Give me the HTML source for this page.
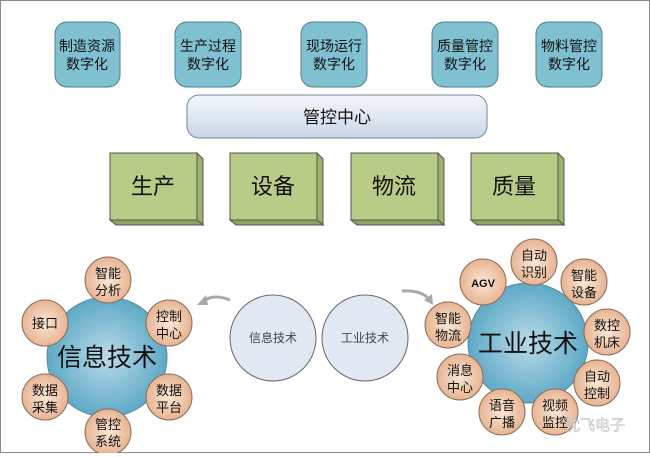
<!DOCTYPE html>
<html><head><meta charset="utf-8"><style>
body{margin:0;background:#fff}
svg text{font-family:"Liberation Sans","Noto Sans CJK SC",sans-serif}
</style></head><body>
<svg width="650" height="453" viewBox="0 0 650 453" xmlns="http://www.w3.org/2000/svg">
<defs>
<linearGradient id="cc" x1="0" y1="0" x2="0" y2="1"><stop offset="0" stop-color="#f4f7fb"/><stop offset="0.5" stop-color="#dfe7f1"/><stop offset="1" stop-color="#c9d6e6"/></linearGradient>
<radialGradient id="big" cx="0.5" cy="0.5" r="0.5"><stop offset="0" stop-color="#b9dbe8"/><stop offset="1" stop-color="#5ea9c6"/></radialGradient>
<radialGradient id="sm" cx="0.5" cy="0.5" r="0.5"><stop offset="0" stop-color="#fbe7d6"/><stop offset="1" stop-color="#e7b493"/></radialGradient>
</defs>
<rect x="0.5" y="0.5" width="649" height="452" fill="#fff" stroke="#8a8a8a"/>
<g fill="#7fc1d1" stroke="#4f7f8a" stroke-width="1">
<rect x="55" y="22" width="65" height="65" rx="12"/>
<rect x="175" y="22" width="66" height="65" rx="12"/>
<rect x="301" y="22" width="66" height="65" rx="12"/>
<rect x="432" y="22" width="66" height="65" rx="12"/>
<rect x="536" y="22" width="66" height="65" rx="12"/>
</g>
<g font-size="14" fill="#111" text-anchor="middle">
<text x="87" y="51">制造资源</text><text x="87" y="69">数字化</text>
<text x="208" y="51">生产过程</text><text x="208" y="69">数字化</text>
<text x="334" y="51">现场运行</text><text x="334" y="69">数字化</text>
<text x="465" y="51">质量管控</text><text x="465" y="69">数字化</text>
<text x="569" y="51">物料管控</text><text x="569" y="69">数字化</text>
</g>
<rect x="187" y="95" width="300" height="43" rx="12" fill="url(#cc)" stroke="#7a8594"/>
<text x="337" y="123" font-size="17" text-anchor="middle" fill="#111">管控中心</text>
<g stroke="#555" stroke-width="1">
<g id="gb"><polygon points="197,153 203,159 203,225 197,220" fill="#9bb36a"/><polygon points="110,220 197,220 203,225 116,225" fill="#8ea45f"/><rect x="110" y="153" width="87" height="67" fill="#b8cc88"/></g>
<use href="#gb" x="120"/><use href="#gb" x="241"/><use href="#gb" x="361"/>
</g>
<g font-size="22" fill="#111" text-anchor="middle">
<text x="153" y="194">生产</text><text x="273" y="194">设备</text><text x="394" y="194">物流</text><text x="514" y="194">质量</text>
</g>
<circle cx="273" cy="338" r="43" fill="#e1e8f4" stroke="#666"/>
<circle cx="365" cy="338" r="43" fill="#e1e8f4" stroke="#666"/>
<g font-size="12" fill="#444" text-anchor="middle"><text x="273" y="342">信息技术</text><text x="365" y="342">工业技术</text></g>
<path d="M230,300 Q215,294 205,300" fill="none" stroke="#aaa" stroke-width="3"/>
<polygon points="197,305 206,295 208,305" fill="#aaa"/>
<path d="M402,291 Q420,290 428,298" fill="none" stroke="#aaa" stroke-width="3"/>
<polygon points="433,305 424,300 432,294" fill="#aaa"/>
<circle cx="107" cy="357" r="60" fill="url(#big)" stroke="#5a8a9a"/>
<g fill="url(#sm)" stroke="#8a6a55">
<circle cx="108" cy="280" r="23"/><circle cx="45" cy="323" r="23"/><circle cx="169" cy="323" r="23"/>
<circle cx="45" cy="397" r="23"/><circle cx="169" cy="397" r="23"/><circle cx="108" cy="432" r="23"/>
</g>
<text x="107" y="366" font-size="25" text-anchor="middle" fill="#111">信息技术</text>
<g font-size="13" fill="#111" text-anchor="middle">
<text x="108" y="278">智能</text><text x="108" y="295">分析</text>
<text x="45" y="328">接口</text>
<text x="169" y="321">控制</text><text x="169" y="338">中心</text>
<text x="45" y="395">数据</text><text x="45" y="412">采集</text>
<text x="169" y="395">数据</text><text x="169" y="412">平台</text>
<text x="108" y="429">管控</text><text x="108" y="446">系统</text>
</g>
<circle cx="528" cy="343" r="60" fill="url(#big)" stroke="#5a8a9a"/>
<g fill="url(#sm)" stroke="#8a6a55">
<circle cx="483" cy="282" r="23"/><circle cx="534" cy="262" r="23"/><circle cx="584" cy="282" r="23"/>
<circle cx="607" cy="332" r="23"/><circle cx="597" cy="383" r="23"/><circle cx="555" cy="412" r="23"/>
<circle cx="502" cy="412" r="23"/><circle cx="460" cy="377" r="23"/><circle cx="448" cy="325" r="23"/>
</g>
<text x="528" y="352" font-size="25" text-anchor="middle" fill="#111">工业技术</text>
<g font-size="13" fill="#111" text-anchor="middle">
<text x="483" y="287" font-size="11" font-weight="bold">AGV</text>
<text x="534" y="260">自动</text><text x="534" y="277">识别</text>
<text x="584" y="280">智能</text><text x="584" y="297">设备</text>
<text x="607" y="330">数控</text><text x="607" y="347">机床</text>
<text x="597" y="381">自动</text><text x="597" y="398">控制</text>
<text x="555" y="410">视频</text><text x="555" y="427">监控</text>
<text x="502" y="410">语音</text><text x="502" y="427">广播</text>
<text x="460" y="375">消息</text><text x="460" y="392">中心</text>
<text x="448" y="323">智能</text><text x="448" y="340">物流</text>
</g>
<text x="565" y="430" font-size="15" fill="#fff" stroke="#bbb" stroke-width="0.6">沈飞电子</text>
</svg>
</body></html>
